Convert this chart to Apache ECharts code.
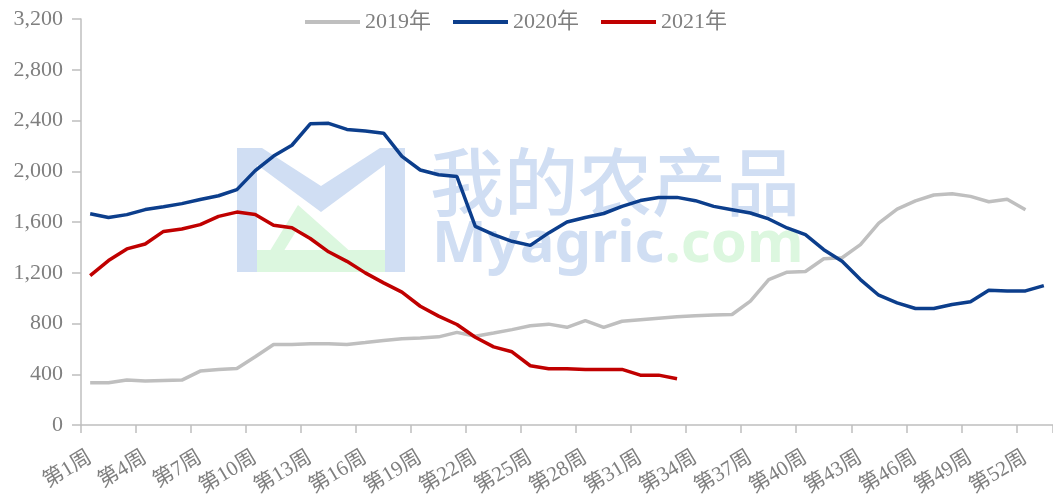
<!DOCTYPE html>
<html>
<head>
<meta charset="utf-8">
<script src="https://cdn.jsdelivr.net/npm/echarts@6/dist/echarts.min.js"></script>
<style>html,body{margin:0;padding:0;background:#fff}#c{width:1053px;height:499px}</style>
</head>
<body>
<div id="c"></div>
<script>
const weeks = Array.from({length: 53}, (_, i) => '第' + (i + 1) + '周');
const seriesNames = ['2019年', '2020年', '2021年'];
const y2019 = [333, 333, 354, 346, 350, 354, 425, 438, 446, 538, 635, 635, 640, 640, 635, 650, 666, 680, 685, 695,
  730, 700, 725, 752, 782, 795, 770, 822, 770, 818, 830, 842, 853, 862, 868, 871, 976, 1146, 1204, 1210,
  1310, 1318, 1422, 1592, 1702, 1766, 1813, 1823, 1802, 1760, 1780, 1697];
const y2020 = [1665, 1635, 1658, 1698, 1720, 1745, 1778, 1807, 1855, 2005, 2120, 2205, 2374, 2378, 2330, 2318, 2300, 2117, 2010, 1972,
  1958, 1566, 1500, 1448, 1416, 1514, 1600, 1636, 1667, 1723, 1769, 1793, 1794, 1768, 1723, 1697, 1671, 1624, 1553, 1500,
  1382, 1290, 1146, 1023, 963, 918, 918, 950, 971, 1062, 1057, 1057, 1099];
const y2021 = [1178, 1296, 1388, 1427, 1526, 1545, 1579, 1644, 1678, 1660, 1574, 1555, 1470, 1365, 1290, 1199, 1120, 1047, 936, 858,
  792, 692, 616, 577, 467, 444, 444, 438, 438, 438, 393, 393, 365];
const yTicks = {min: 0, max: 3200, interval: 400};
const colors = ['#bfbfbf', '#0c3e8c', '#c00000'];

const font = '"Liberation Serif", "Times New Roman", "Noto Sans CJK SC", serif';
const textColor = '#7f7f7f';
const wmBlue = '#d0def3';
const wmGreen = '#dcf7df';

const chart = echarts.init(document.getElementById('c'));
chart.setOption({
  animation: false,
  backgroundColor: '#fff',
  graphic: [
    {type: 'rect', z: 0, shape: {x: 237, y: 148, width: 20, height: 124}, style: {fill: wmBlue}},
    {type: 'rect', z: 0, shape: {x: 385, y: 148, width: 20, height: 124}, style: {fill: wmBlue}},
    {type: 'polygon', z: 0, shape: {points: [[237,148],[262,148],[321,186],[380,148],[405,148],[405,150],[321,212],[237,150]]}, style: {fill: wmBlue}},
    {type: 'polygon', z: 0, shape: {points: [[257,272],[298,205],[362,262],[336,262],[298,228],[277,262],[257,262]]}, style: {fill: wmGreen}},
    {type: 'rect', z: 0, shape: {x: 257, y: 250, width: 128, height: 22}, style: {fill: wmGreen}},
    {type: 'text', z: 0, left: 430, top: 145, style: {text: '我的农产品', font: '500 74px "Noto Sans CJK SC"', fill: wmBlue}},
    {type: 'text', z: 0, left: 432, top: 216, style: {
      text: '{a|Myagric}{b|.com}',
      rich: {
        a: {font: 'bold 58px "Noto Sans"', fill: wmBlue},
        b: {font: 'bold 58px "Noto Sans"', fill: wmGreen}
      }
    }}
  ],
  legend: {
    top: 6,
    left: 300,
    icon: 'rect',
    itemWidth: 55,
    itemHeight: 4,
    itemGap: 22,
    textStyle: {fontFamily: font, fontSize: 22, color: textColor},
    data: seriesNames
  },
  grid: {left: 81, right: 0, top: 19, bottom: 73},
  xAxis: {
    type: 'category',
    data: weeks,
    boundaryGap: true,
    axisLine: {lineStyle: {color: '#bfbfbf', width: 1.5}},
    axisTick: {show: true, interval: 2, length: 8, alignWithLabel: false, lineStyle: {color: '#bfbfbf', width: 1.5}},
    axisLabel: {interval: 2, rotate: 31, margin: 31, fontFamily: font, fontSize: 21, color: textColor},
    splitLine: {show: false}
  },
  yAxis: {
    type: 'value',
    min: yTicks.min, max: yTicks.max, interval: yTicks.interval,
    axisLine: {show: true, lineStyle: {color: '#bfbfbf', width: 1.5}},
    axisTick: {show: true, length: 9, lineStyle: {color: '#bfbfbf', width: 1.5}},
    axisLabel: {margin: 18, fontFamily: font, fontSize: 22, color: textColor,
      formatter: v => v.toLocaleString('en-US')},
    splitLine: {show: false}
  },
  series: [y2019, y2020, y2021].map((d, i) => ({
    name: seriesNames[i],
    type: 'line',
    data: d,
    symbol: 'none',
    z: 3 + i,
    itemStyle: {color: colors[i]},
    lineStyle: {color: colors[i], width: 3.5}
  }))
});
</script>
</body>
</html>
